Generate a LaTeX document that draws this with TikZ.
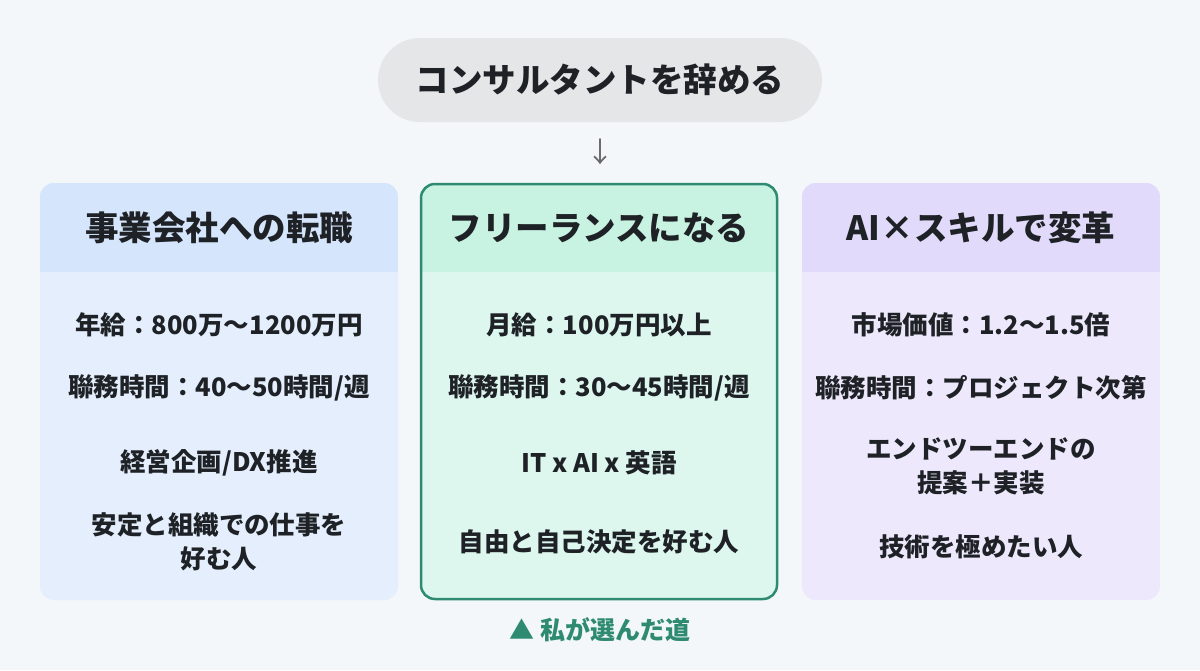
\documentclass[tikz,border=0pt]{standalone}
\usepackage{fontspec}
\setmainfont{Noto Sans CJK JP}
\begin{document}
\definecolor{bg}{HTML}{F3F7FA}
\definecolor{pill}{HTML}{E4E6E8}
\definecolor{txt}{HTML}{1E2226}
\definecolor{bh}{HTML}{D5E5FB}\definecolor{bb}{HTML}{E4EEFC}
\definecolor{gh}{HTML}{C8F2E2}\definecolor{gb}{HTML}{DDF7EE}\definecolor{gl}{HTML}{2E8A70}
\definecolor{ph}{HTML}{E2DAFA}\definecolor{pb}{HTML}{EDE8FB}
\begin{tikzpicture}[x=1pt,y=-1pt,
 head/.style={font=\fontsize{33.5}{38}\selectfont\bfseries,text=txt},
 item/.style={font=\fontsize{25.5}{34}\selectfont\bfseries,text=txt,align=center}]
\fill[bg] (0,0) rectangle (1200,670);
\useasboundingbox (0,0) rectangle (1200,670);
\fill[pill,rounded corners=42] (378,38) rectangle (822,122);
\node[head] (top) at (600,80) {コンサルタントを辞める};
\node[font=\fontsize{28}{30}\selectfont,text=gray!80!black] (arr) at (600,152) {↓};
% left
\fill[bb,rounded corners=14] (40,183) rectangle (398,600);
\begin{scope}\clip[rounded corners=14] (40,183) rectangle (398,600);
\fill[bh] (40,183) rectangle (398,272);\end{scope}
\node[head] (l0) at (219,228) {事業会社への転職};
\node[item] (l1) at (219,325) {年給：800万〜1200万円};
\node[item] (l2) at (219,388) {聯務時間：40〜50時間/週};
\node[item] (l3) at (219,463) {経営企画/DX推進};
\node[item] (l4) at (219,542) {安定と組織での仕事を\\好む人};
% middle
\fill[gb,rounded corners=14] (420,183) rectangle (778,600);
\begin{scope}\clip[rounded corners=14] (420,183) rectangle (778,600);
\fill[gh] (420,183) rectangle (778,272);\end{scope}
\draw[gl,line width=2.5,rounded corners=14] (421,184) rectangle (777,599);
\node[head] (m0) at (599,228) {フリーランスになる};
\node[item] (m1) at (599,325) {月給：100万円以上};
\node[item] (m2) at (599,388) {聯務時間：30〜45時間/週};
\node[item] (m3) at (599,463) {IT x AI x 英語};
\node[item] (m4) at (599,542) {自由と自己決定を好む人};
% right
\fill[pb,rounded corners=14] (802,183) rectangle (1160,600);
\begin{scope}\clip[rounded corners=14] (802,183) rectangle (1160,600);
\fill[ph] (802,183) rectangle (1160,272);\end{scope}
\node[head] (r0) at (981,228) {AI×スキルで変革};
\node[item] (r1) at (981,325) {市場価値：1.2〜1.5倍};
\node[item] (r2) at (981,388) {聯務時間：プロジェクト次第};
\node[item] (r3) at (981,466) {エンドツーエンドの\\提案＋実装};
\node[item] (r4) at (981,547) {技術を極めたい人};
\node[font=\fontsize{25}{28}\selectfont\bfseries,text=gl] (sel) at (600,630) {▲ 私が選んだ道};
\end{tikzpicture}
\end{document}
